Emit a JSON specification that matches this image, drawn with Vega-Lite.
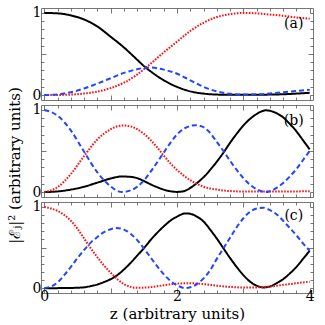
{
  "$schema": "https://vega.github.io/schema/vega-lite/v6.json",
  "background": "white",
  "padding": {"left": 6, "top": 5, "right": 10, "bottom": 2},
  "spacing": 5,
  "bounds": "flush",
  "config": {
    "view": {"stroke": "#777777", "strokeWidth": 1},
    "axis": {
      "domain": false, "grid": false, "tickColor": "#555555", "tickWidth": 0.8,
      "labelFont": "DejaVu Serif", "labelFontSize": 14, "labelColor": "black",
      "titleFont": "DejaVu Serif", "titleFontSize": 15, "titleFontWeight": "normal", "titleColor": "black",
      "labelOverlap": false, "labelFlush": false
    }
  },
  "datasets": {
    "a": [
      {"s": "k", "z": 0, "v": 1.0}, {"s": "k", "z": 0.2, "v": 0.995}, {"s": "k", "z": 0.4, "v": 0.97}, {"s": "k", "z": 0.6, "v": 0.92}, {"s": "k", "z": 0.8, "v": 0.835}, {"s": "k", "z": 1.0, "v": 0.71}, {"s": "k", "z": 1.2, "v": 0.58}, {"s": "k", "z": 1.4, "v": 0.43}, {"s": "k", "z": 1.53, "v": 0.333}, {"s": "k", "z": 1.6, "v": 0.29}, {"s": "k", "z": 1.8, "v": 0.18}, {"s": "k", "z": 2.0, "v": 0.1}, {"s": "k", "z": 2.2, "v": 0.045}, {"s": "k", "z": 2.4, "v": 0.018}, {"s": "k", "z": 2.6, "v": 0.006}, {"s": "k", "z": 2.8, "v": 0.003}, {"s": "k", "z": 3.0, "v": 0.003}, {"s": "k", "z": 3.2, "v": 0.004}, {"s": "k", "z": 3.4, "v": 0.006}, {"s": "k", "z": 3.6, "v": 0.01}, {"s": "k", "z": 3.8, "v": 0.018}, {"s": "k", "z": 4.0, "v": 0.028},
      {"s": "r", "z": 0, "v": 0.0}, {"s": "r", "z": 0.2, "v": 0.001}, {"s": "r", "z": 0.4, "v": 0.006}, {"s": "r", "z": 0.6, "v": 0.018}, {"s": "r", "z": 0.8, "v": 0.042}, {"s": "r", "z": 1.0, "v": 0.085}, {"s": "r", "z": 1.2, "v": 0.15}, {"s": "r", "z": 1.4, "v": 0.25}, {"s": "r", "z": 1.53, "v": 0.333}, {"s": "r", "z": 1.6, "v": 0.38}, {"s": "r", "z": 1.8, "v": 0.52}, {"s": "r", "z": 2.0, "v": 0.65}, {"s": "r", "z": 2.2, "v": 0.78}, {"s": "r", "z": 2.4, "v": 0.88}, {"s": "r", "z": 2.6, "v": 0.95}, {"s": "r", "z": 2.8, "v": 0.985}, {"s": "r", "z": 3.0, "v": 1.0}, {"s": "r", "z": 3.2, "v": 0.995}, {"s": "r", "z": 3.4, "v": 0.98}, {"s": "r", "z": 3.6, "v": 0.965}, {"s": "r", "z": 3.8, "v": 0.945}, {"s": "r", "z": 4.0, "v": 0.93},
      {"s": "b", "z": 0, "v": 0.0}, {"s": "b", "z": 0.2, "v": 0.008}, {"s": "b", "z": 0.4, "v": 0.035}, {"s": "b", "z": 0.6, "v": 0.08}, {"s": "b", "z": 0.8, "v": 0.14}, {"s": "b", "z": 1.0, "v": 0.205}, {"s": "b", "z": 1.2, "v": 0.27}, {"s": "b", "z": 1.4, "v": 0.315}, {"s": "b", "z": 1.53, "v": 0.333}, {"s": "b", "z": 1.6, "v": 0.335}, {"s": "b", "z": 1.8, "v": 0.31}, {"s": "b", "z": 2.0, "v": 0.26}, {"s": "b", "z": 2.2, "v": 0.18}, {"s": "b", "z": 2.4, "v": 0.1}, {"s": "b", "z": 2.6, "v": 0.045}, {"s": "b", "z": 2.8, "v": 0.015}, {"s": "b", "z": 3.0, "v": 0.006}, {"s": "b", "z": 3.2, "v": 0.009}, {"s": "b", "z": 3.4, "v": 0.02}, {"s": "b", "z": 3.6, "v": 0.035}, {"s": "b", "z": 3.8, "v": 0.05}, {"s": "b", "z": 4.0, "v": 0.065}
    ],
    "b": [
      {"s": "k", "z": 0, "v": 0.0}, {"s": "k", "z": 0.2, "v": 0.008}, {"s": "k", "z": 0.4, "v": 0.03}, {"s": "k", "z": 0.6, "v": 0.065}, {"s": "k", "z": 0.8, "v": 0.115}, {"s": "k", "z": 1.0, "v": 0.165}, {"s": "k", "z": 1.17, "v": 0.19}, {"s": "k", "z": 1.3, "v": 0.185}, {"s": "k", "z": 1.4, "v": 0.17}, {"s": "k", "z": 1.5, "v": 0.135}, {"s": "k", "z": 1.6, "v": 0.095}, {"s": "k", "z": 1.7, "v": 0.06}, {"s": "k", "z": 1.8, "v": 0.03}, {"s": "k", "z": 1.9, "v": 0.01}, {"s": "k", "z": 2.0, "v": 0.002}, {"s": "k", "z": 2.1, "v": 0.01}, {"s": "k", "z": 2.2, "v": 0.05}, {"s": "k", "z": 2.3, "v": 0.11}, {"s": "k", "z": 2.4, "v": 0.18}, {"s": "k", "z": 2.5, "v": 0.27}, {"s": "k", "z": 2.6, "v": 0.37}, {"s": "k", "z": 2.7, "v": 0.48}, {"s": "k", "z": 2.8, "v": 0.6}, {"s": "k", "z": 2.9, "v": 0.71}, {"s": "k", "z": 3.0, "v": 0.81}, {"s": "k", "z": 3.1, "v": 0.89}, {"s": "k", "z": 3.2, "v": 0.95}, {"s": "k", "z": 3.34, "v": 0.995}, {"s": "k", "z": 3.4, "v": 0.99}, {"s": "k", "z": 3.5, "v": 0.96}, {"s": "k", "z": 3.6, "v": 0.91}, {"s": "k", "z": 3.7, "v": 0.83}, {"s": "k", "z": 3.8, "v": 0.74}, {"s": "k", "z": 3.9, "v": 0.63}, {"s": "k", "z": 4.0, "v": 0.52},
      {"s": "r", "z": 0, "v": 0.0}, {"s": "r", "z": 0.2, "v": 0.06}, {"s": "r", "z": 0.4, "v": 0.22}, {"s": "r", "z": 0.6, "v": 0.44}, {"s": "r", "z": 0.8, "v": 0.64}, {"s": "r", "z": 1.0, "v": 0.765}, {"s": "r", "z": 1.17, "v": 0.81}, {"s": "r", "z": 1.3, "v": 0.8}, {"s": "r", "z": 1.4, "v": 0.765}, {"s": "r", "z": 1.5, "v": 0.71}, {"s": "r", "z": 1.6, "v": 0.635}, {"s": "r", "z": 1.7, "v": 0.545}, {"s": "r", "z": 1.8, "v": 0.445}, {"s": "r", "z": 1.9, "v": 0.35}, {"s": "r", "z": 2.0, "v": 0.27}, {"s": "r", "z": 2.2, "v": 0.145}, {"s": "r", "z": 2.4, "v": 0.065}, {"s": "r", "z": 2.6, "v": 0.03}, {"s": "r", "z": 2.8, "v": 0.012}, {"s": "r", "z": 3.0, "v": 0.007}, {"s": "r", "z": 3.4, "v": 0.006}, {"s": "r", "z": 3.8, "v": 0.008}, {"s": "r", "z": 4.0, "v": 0.01},
      {"s": "b", "z": 0, "v": 1.0}, {"s": "b", "z": 0.2, "v": 0.93}, {"s": "b", "z": 0.4, "v": 0.75}, {"s": "b", "z": 0.6, "v": 0.49}, {"s": "b", "z": 0.8, "v": 0.24}, {"s": "b", "z": 1.0, "v": 0.07}, {"s": "b", "z": 1.1, "v": 0.015}, {"s": "b", "z": 1.17, "v": 0.0}, {"s": "b", "z": 1.3, "v": 0.02}, {"s": "b", "z": 1.4, "v": 0.065}, {"s": "b", "z": 1.5, "v": 0.14}, {"s": "b", "z": 1.6, "v": 0.245}, {"s": "b", "z": 1.7, "v": 0.36}, {"s": "b", "z": 1.8, "v": 0.48}, {"s": "b", "z": 1.9, "v": 0.6}, {"s": "b", "z": 2.0, "v": 0.7}, {"s": "b", "z": 2.1, "v": 0.77}, {"s": "b", "z": 2.2, "v": 0.805}, {"s": "b", "z": 2.28, "v": 0.815}, {"s": "b", "z": 2.4, "v": 0.79}, {"s": "b", "z": 2.5, "v": 0.72}, {"s": "b", "z": 2.6, "v": 0.61}, {"s": "b", "z": 2.7, "v": 0.5}, {"s": "b", "z": 2.8, "v": 0.38}, {"s": "b", "z": 2.9, "v": 0.27}, {"s": "b", "z": 3.0, "v": 0.17}, {"s": "b", "z": 3.1, "v": 0.09}, {"s": "b", "z": 3.2, "v": 0.035}, {"s": "b", "z": 3.34, "v": 0.0}, {"s": "b", "z": 3.4, "v": 0.01}, {"s": "b", "z": 3.5, "v": 0.05}, {"s": "b", "z": 3.6, "v": 0.11}, {"s": "b", "z": 3.7, "v": 0.19}, {"s": "b", "z": 3.8, "v": 0.28}, {"s": "b", "z": 3.9, "v": 0.39}, {"s": "b", "z": 4.0, "v": 0.5}
    ],
    "c": [
      {"s": "k", "z": 0, "v": 0.0}, {"s": "k", "z": 0.2, "v": 0.0}, {"s": "k", "z": 0.4, "v": 0.002}, {"s": "k", "z": 0.5, "v": 0.005}, {"s": "k", "z": 0.6, "v": 0.01}, {"s": "k", "z": 0.7, "v": 0.025}, {"s": "k", "z": 0.8, "v": 0.045}, {"s": "k", "z": 0.9, "v": 0.075}, {"s": "k", "z": 1.0, "v": 0.11}, {"s": "k", "z": 1.1, "v": 0.16}, {"s": "k", "z": 1.2, "v": 0.23}, {"s": "k", "z": 1.3, "v": 0.31}, {"s": "k", "z": 1.4, "v": 0.4}, {"s": "k", "z": 1.5, "v": 0.49}, {"s": "k", "z": 1.6, "v": 0.59}, {"s": "k", "z": 1.7, "v": 0.68}, {"s": "k", "z": 1.8, "v": 0.76}, {"s": "k", "z": 1.9, "v": 0.83}, {"s": "k", "z": 2.0, "v": 0.88}, {"s": "k", "z": 2.13, "v": 0.92}, {"s": "k", "z": 2.2, "v": 0.915}, {"s": "k", "z": 2.3, "v": 0.88}, {"s": "k", "z": 2.4, "v": 0.82}, {"s": "k", "z": 2.5, "v": 0.72}, {"s": "k", "z": 2.6, "v": 0.61}, {"s": "k", "z": 2.7, "v": 0.49}, {"s": "k", "z": 2.8, "v": 0.37}, {"s": "k", "z": 2.9, "v": 0.26}, {"s": "k", "z": 3.0, "v": 0.16}, {"s": "k", "z": 3.1, "v": 0.08}, {"s": "k", "z": 3.2, "v": 0.03}, {"s": "k", "z": 3.3, "v": 0.008}, {"s": "k", "z": 3.4, "v": 0.02}, {"s": "k", "z": 3.5, "v": 0.06}, {"s": "k", "z": 3.6, "v": 0.11}, {"s": "k", "z": 3.7, "v": 0.18}, {"s": "k", "z": 3.8, "v": 0.26}, {"s": "k", "z": 3.9, "v": 0.36}, {"s": "k", "z": 4.0, "v": 0.46},
      {"s": "r", "z": 0, "v": 1.0}, {"s": "r", "z": 0.1, "v": 0.98}, {"s": "r", "z": 0.2, "v": 0.95}, {"s": "r", "z": 0.3, "v": 0.9}, {"s": "r", "z": 0.4, "v": 0.83}, {"s": "r", "z": 0.5, "v": 0.73}, {"s": "r", "z": 0.6, "v": 0.61}, {"s": "r", "z": 0.7, "v": 0.49}, {"s": "r", "z": 0.8, "v": 0.38}, {"s": "r", "z": 0.9, "v": 0.28}, {"s": "r", "z": 1.0, "v": 0.19}, {"s": "r", "z": 1.1, "v": 0.11}, {"s": "r", "z": 1.2, "v": 0.05}, {"s": "r", "z": 1.3, "v": 0.015}, {"s": "r", "z": 1.4, "v": 0.004}, {"s": "r", "z": 1.6, "v": 0.012}, {"s": "r", "z": 1.8, "v": 0.035}, {"s": "r", "z": 2.0, "v": 0.055}, {"s": "r", "z": 2.2, "v": 0.06}, {"s": "r", "z": 2.4, "v": 0.05}, {"s": "r", "z": 2.6, "v": 0.03}, {"s": "r", "z": 2.8, "v": 0.015}, {"s": "r", "z": 3.0, "v": 0.008}, {"s": "r", "z": 3.2, "v": 0.009}, {"s": "r", "z": 3.4, "v": 0.02}, {"s": "r", "z": 3.6, "v": 0.04}, {"s": "r", "z": 3.8, "v": 0.06}, {"s": "r", "z": 4.0, "v": 0.08},
      {"s": "b", "z": 0, "v": 0.0}, {"s": "b", "z": 0.1, "v": 0.02}, {"s": "b", "z": 0.2, "v": 0.07}, {"s": "b", "z": 0.3, "v": 0.16}, {"s": "b", "z": 0.4, "v": 0.26}, {"s": "b", "z": 0.5, "v": 0.37}, {"s": "b", "z": 0.6, "v": 0.47}, {"s": "b", "z": 0.7, "v": 0.56}, {"s": "b", "z": 0.8, "v": 0.63}, {"s": "b", "z": 0.9, "v": 0.69}, {"s": "b", "z": 1.0, "v": 0.725}, {"s": "b", "z": 1.08, "v": 0.74}, {"s": "b", "z": 1.2, "v": 0.72}, {"s": "b", "z": 1.3, "v": 0.67}, {"s": "b", "z": 1.4, "v": 0.59}, {"s": "b", "z": 1.5, "v": 0.49}, {"s": "b", "z": 1.6, "v": 0.38}, {"s": "b", "z": 1.7, "v": 0.27}, {"s": "b", "z": 1.8, "v": 0.17}, {"s": "b", "z": 1.9, "v": 0.09}, {"s": "b", "z": 2.0, "v": 0.035}, {"s": "b", "z": 2.13, "v": 0.0}, {"s": "b", "z": 2.2, "v": 0.01}, {"s": "b", "z": 2.3, "v": 0.05}, {"s": "b", "z": 2.4, "v": 0.12}, {"s": "b", "z": 2.5, "v": 0.22}, {"s": "b", "z": 2.6, "v": 0.36}, {"s": "b", "z": 2.7, "v": 0.49}, {"s": "b", "z": 2.8, "v": 0.62}, {"s": "b", "z": 2.9, "v": 0.75}, {"s": "b", "z": 3.0, "v": 0.86}, {"s": "b", "z": 3.1, "v": 0.94}, {"s": "b", "z": 3.2, "v": 0.98}, {"s": "b", "z": 3.3, "v": 0.99}, {"s": "b", "z": 3.4, "v": 0.96}, {"s": "b", "z": 3.5, "v": 0.91}, {"s": "b", "z": 3.6, "v": 0.83}, {"s": "b", "z": 3.7, "v": 0.74}, {"s": "b", "z": 3.8, "v": 0.65}, {"s": "b", "z": 3.9, "v": 0.55}, {"s": "b", "z": 4.0, "v": 0.46}
    ]
  },
  "vconcat": [
    {
      "width": 272, "height": 92,
      "layer": [
        {
          "data": {"name": "a"},
          "mark": {"type": "line", "interpolate": "monotone", "clip": true},
          "encoding": {
            "x": {"field": "z", "type": "quantitative", "scale": {"domain": [-0.05, 4.05], "nice": false, "zero": false},
                  "axis": {"orient": "bottom", "values": [0,0.2,0.4,0.6,0.8,1,1.2,1.4,1.6,1.8,2,2.2,2.4,2.6,2.8,3,3.2,3.4,3.6,3.8,4], "labels": false, "title": null,
                           "tickSize": {"condition": {"test": "abs(datum.value-round(datum.value))<0.01", "value": -5}, "value": -3}}},
            "y": {"field": "v", "type": "quantitative", "scale": {"domain": [-0.06, 1.06], "nice": false, "zero": false},
                  "axis": {"orient": "left", "values": [0,0.1,0.2,0.3,0.4,0.5,0.6,0.7,0.8,0.9,1], "labelExpr": "abs(datum.value)<0.01 ? '0' : abs(datum.value-1)<0.01 ? '1' : ''", "title": null, "labelPadding": 3,
                           "tickSize": {"condition": {"test": "abs(datum.value-0.5)<0.01", "value": -5}, "value": -3}}},
            "color": {"field": "s", "type": "nominal", "scale": {"domain": ["k", "b", "r"], "range": ["#000000", "#2445ff", "#ff1010"]}, "legend": null},
            "strokeDash": {"field": "s", "type": "nominal", "scale": {"domain": ["k", "b", "r"], "range": [[1, 0], [5, 3], [1.6, 1.4]]}, "legend": null},
            "strokeWidth": {"field": "s", "type": "nominal", "scale": {"domain": ["k", "b", "r"], "range": [2, 2, 1.8]}, "legend": null}
          }
        },
        {
          "data": {"name": "a"},
          "mark": {"type": "point", "opacity": 0},
          "encoding": {
            "x": {"field": "z", "type": "quantitative", "axis": {"orient": "top", "values": [0,0.2,0.4,0.6,0.8,1,1.2,1.4,1.6,1.8,2,2.2,2.4,2.6,2.8,3,3.2,3.4,3.6,3.8,4], "labels": false, "title": null,
                  "tickSize": {"condition": {"test": "abs(datum.value-round(datum.value))<0.01", "value": -5}, "value": -3}}},
            "y": {"field": "v", "type": "quantitative", "axis": {"orient": "right", "values": [0,0.1,0.2,0.3,0.4,0.5,0.6,0.7,0.8,0.9,1], "labels": false, "title": null,
                  "tickSize": {"condition": {"test": "abs(datum.value-0.5)<0.01", "value": -5}, "value": -3}}}
          }
        },
        {
          "data": {"values": [{"z": 3.76, "v": 0.86, "t": "(a)"}]},
          "mark": {"type": "text", "font": "DejaVu Serif", "fontSize": 14, "color": "black"},
          "encoding": {
            "x": {"field": "z", "type": "quantitative", "axis": null},
            "y": {"field": "v", "type": "quantitative", "axis": null},
            "text": {"field": "t"}
          }
        }
      ],
      "resolve": {"axis": {"x": "independent", "y": "independent"}}
    },
    {
      "width": 272, "height": 92,
      "layer": [
        {
          "data": {"name": "b"},
          "mark": {"type": "line", "interpolate": "monotone", "clip": true},
          "encoding": {
            "x": {"field": "z", "type": "quantitative", "scale": {"domain": [-0.05, 4.05], "nice": false, "zero": false},
                  "axis": {"orient": "bottom", "values": [0,0.2,0.4,0.6,0.8,1,1.2,1.4,1.6,1.8,2,2.2,2.4,2.6,2.8,3,3.2,3.4,3.6,3.8,4], "labels": false, "title": null,
                           "tickSize": {"condition": {"test": "abs(datum.value-round(datum.value))<0.01", "value": -5}, "value": -3}}},
            "y": {"field": "v", "type": "quantitative", "scale": {"domain": [-0.06, 1.06], "nice": false, "zero": false},
                  "axis": {"orient": "left", "values": [0,0.1,0.2,0.3,0.4,0.5,0.6,0.7,0.8,0.9,1], "labelExpr": "abs(datum.value)<0.01 ? '0' : abs(datum.value-1)<0.01 ? '1' : ''", "title": "|ℰⱼ|² (arbitrary units)", "titlePadding": 10, "titleY": 60, "labelPadding": 3,
                           "tickSize": {"condition": {"test": "abs(datum.value-0.5)<0.01", "value": -5}, "value": -3}}},
            "color": {"field": "s", "type": "nominal", "scale": {"domain": ["k", "b", "r"], "range": ["#000000", "#2445ff", "#ff1010"]}, "legend": null},
            "strokeDash": {"field": "s", "type": "nominal", "scale": {"domain": ["k", "b", "r"], "range": [[1, 0], [5, 3], [1.6, 1.4]]}, "legend": null},
            "strokeWidth": {"field": "s", "type": "nominal", "scale": {"domain": ["k", "b", "r"], "range": [2, 2, 1.8]}, "legend": null}
          }
        },
        {
          "data": {"name": "b"},
          "mark": {"type": "point", "opacity": 0},
          "encoding": {
            "x": {"field": "z", "type": "quantitative", "axis": {"orient": "top", "values": [0,0.2,0.4,0.6,0.8,1,1.2,1.4,1.6,1.8,2,2.2,2.4,2.6,2.8,3,3.2,3.4,3.6,3.8,4], "labels": false, "title": null,
                  "tickSize": {"condition": {"test": "abs(datum.value-round(datum.value))<0.01", "value": -5}, "value": -3}}},
            "y": {"field": "v", "type": "quantitative", "axis": {"orient": "right", "values": [0,0.1,0.2,0.3,0.4,0.5,0.6,0.7,0.8,0.9,1], "labels": false, "title": null,
                  "tickSize": {"condition": {"test": "abs(datum.value-0.5)<0.01", "value": -5}, "value": -3}}}
          }
        },
        {
          "data": {"values": [{"z": 3.76, "v": 0.86, "t": "(b)"}]},
          "mark": {"type": "text", "font": "DejaVu Serif", "fontSize": 14, "color": "black"},
          "encoding": {
            "x": {"field": "z", "type": "quantitative", "axis": null},
            "y": {"field": "v", "type": "quantitative", "axis": null},
            "text": {"field": "t"}
          }
        }
      ],
      "resolve": {"axis": {"x": "independent", "y": "independent"}}
    },
    {
      "width": 272, "height": 91,
      "layer": [
        {
          "data": {"name": "c"},
          "mark": {"type": "line", "interpolate": "monotone", "clip": true},
          "encoding": {
            "x": {"field": "z", "type": "quantitative", "scale": {"domain": [-0.05, 4.05], "nice": false, "zero": false},
                  "axis": {"orient": "bottom", "values": [0,0.2,0.4,0.6,0.8,1,1.2,1.4,1.6,1.8,2,2.2,2.4,2.6,2.8,3,3.2,3.4,3.6,3.8,4], "labelExpr": "abs(datum.value)<0.01 ? '0' : abs(datum.value-2)<0.01 ? '2' : abs(datum.value-4)<0.01 ? '4' : ''", "title": "z (arbitrary units)", "labelPadding": 1, "titlePadding": 1,
                           "tickSize": {"condition": {"test": "abs(datum.value-round(datum.value))<0.01", "value": -5}, "value": -3}}},
            "y": {"field": "v", "type": "quantitative", "scale": {"domain": [-0.06, 1.06], "nice": false, "zero": false},
                  "axis": {"orient": "left", "values": [0,0.1,0.2,0.3,0.4,0.5,0.6,0.7,0.8,0.9,1], "labelExpr": "abs(datum.value)<0.01 ? '0' : abs(datum.value-1)<0.01 ? '1' : ''", "title": null, "labelPadding": 3,
                           "tickSize": {"condition": {"test": "abs(datum.value-0.5)<0.01", "value": -5}, "value": -3}}},
            "color": {"field": "s", "type": "nominal", "scale": {"domain": ["k", "b", "r"], "range": ["#000000", "#2445ff", "#ff1010"]}, "legend": null},
            "strokeDash": {"field": "s", "type": "nominal", "scale": {"domain": ["k", "b", "r"], "range": [[1, 0], [5, 3], [1.6, 1.4]]}, "legend": null},
            "strokeWidth": {"field": "s", "type": "nominal", "scale": {"domain": ["k", "b", "r"], "range": [2, 2, 1.8]}, "legend": null}
          }
        },
        {
          "data": {"name": "c"},
          "mark": {"type": "point", "opacity": 0},
          "encoding": {
            "x": {"field": "z", "type": "quantitative", "axis": {"orient": "top", "values": [0,0.2,0.4,0.6,0.8,1,1.2,1.4,1.6,1.8,2,2.2,2.4,2.6,2.8,3,3.2,3.4,3.6,3.8,4], "labels": false, "title": null,
                  "tickSize": {"condition": {"test": "abs(datum.value-round(datum.value))<0.01", "value": -5}, "value": -3}}},
            "y": {"field": "v", "type": "quantitative", "axis": {"orient": "right", "values": [0,0.1,0.2,0.3,0.4,0.5,0.6,0.7,0.8,0.9,1], "labels": false, "title": null,
                  "tickSize": {"condition": {"test": "abs(datum.value-0.5)<0.01", "value": -5}, "value": -3}}}
          }
        },
        {
          "data": {"values": [{"z": 3.76, "v": 0.89, "t": "(c)"}]},
          "mark": {"type": "text", "font": "DejaVu Serif", "fontSize": 14, "color": "black"},
          "encoding": {
            "x": {"field": "z", "type": "quantitative", "axis": null},
            "y": {"field": "v", "type": "quantitative", "axis": null},
            "text": {"field": "t"}
          }
        }
      ],
      "resolve": {"axis": {"x": "independent", "y": "independent"}}
    }
  ]
}
